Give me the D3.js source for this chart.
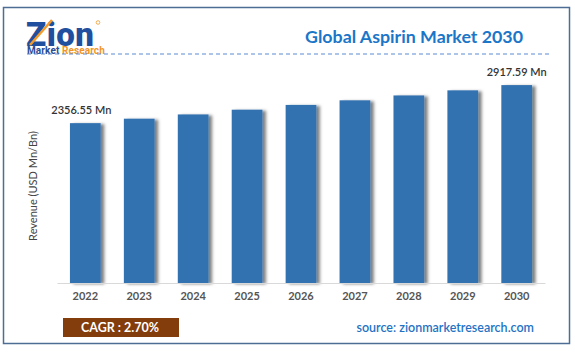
<!DOCTYPE html>
<html>
<head>
<meta charset="utf-8">
<script src="https://cdn.jsdelivr.net/npm/d3@7"></script>
<style>
  body { margin: 0; background: #fff; }
  svg { display: block; font-family: Lato, "Open Sans", sans-serif; }
</style>
</head>
<body>
<svg id="chart" width="575" height="354"></svg>
<script>
// chart data
const years = ["2022", "2023", "2024", "2025", "2026", "2027", "2028", "2029", "2030"];
const revenue = [2356.55, 2422, 2485, 2555, 2625, 2693, 2765, 2840, 2917.59];
const labelledBars = { "2022": "2356.55 Mn", "2030": "2917.59 Mn" };
const cagrText = "CAGR : 2.70%";
const sourceText = "source: zionmarketresearch.com";

const svg = d3.select("#chart");

// shadow to the right of the bars
const defs = svg.append("defs");
const shadow = defs.append("filter")
  .attr("id", "barShadow")
  .attr("x", "-20%").attr("y", "-5%")
  .attr("width", "160%").attr("height", "110%");
shadow.append("feDropShadow")
  .attr("dx", 3.5).attr("dy", 1)
  .attr("stdDeviation", 1.6)
  .attr("flood-color", "#000")
  .attr("flood-opacity", 0.5);

// outer frame
svg.append("rect")
  .attr("x", 3.5).attr("y", 7.5)
  .attr("width", 566).attr("height", 336)
  .attr("fill", "none")
  .attr("stroke", "#4d6d94")
  .attr("stroke-width", 1.5);

// logo
const logo = svg.append("g");
logo.append("text")
  .attr("x", 26).attr("y", 46)
  .attr("font-family", "Roboto, sans-serif")
  .attr("font-weight", 900)
  .attr("font-size", 33)
  .attr("letter-spacing", 0.5)
  .attr("fill", "#1f4f9e")
  .text("Zion");
logo.append("line")
  .attr("x1", 30).attr("y1", 45)
  .attr("x2", 52).attr("y2", 20)
  .attr("stroke", "#f39a2b")
  .attr("stroke-width", 2.5);
logo.append("circle")
  .attr("cx", 98).attr("cy", 22.5).attr("r", 1.8)
  .attr("fill", "none").attr("stroke", "#f39a2b").attr("stroke-width", 0.8);
const sub = logo.append("text")
  .attr("x", 27).attr("y", 53.5)
  .attr("font-family", "Roboto, sans-serif")
  .attr("font-weight", 700)
  .attr("font-size", 10)
  .attr("letter-spacing", 0.1);
sub.append("tspan").attr("fill", "#2b4d96").text("Market ");
sub.append("tspan").attr("fill", "#f0952a").text("Research");

// title + dashed rule
svg.append("text")
  .attr("x", 523).attr("y", 43)
  .attr("text-anchor", "end")
  .attr("font-weight", 700)
  .attr("font-size", 17.8)
  .attr("fill", "#1b76c8")
  .text("Global Aspirin Market 2030");

svg.append("line")
  .attr("x1", 27).attr("x2", 550)
  .attr("y1", 54).attr("y2", 54)
  .attr("stroke", "#5b8ad0")
  .attr("stroke-width", 1)
  .attr("stroke-dasharray", "4,3");

// scales
const x = d3.scaleBand()
  .domain(years)
  .range([57, 545])
  .paddingInner(0.43)
  .paddingOuter(0.24);

const y = d3.scaleLinear()
  .domain([0, 3000])
  .range([283, 79.5]);

// bars
svg.append("g")
  .selectAll("rect")
  .data(years)
  .join("rect")
  .attr("x", d => x(d))
  .attr("y", (d, i) => y(revenue[i]))
  .attr("width", x.bandwidth())
  .attr("height", (d, i) => y(0) - y(revenue[i]))
  .attr("fill", "#3372b1")
  .attr("filter", "url(#barShadow)");

// value labels on first/last bars
svg.append("g")
  .selectAll("text")
  .data(years.filter(d => labelledBars[d]))
  .join("text")
  .attr("x", d => x(d) + x.bandwidth() / 2 - (d === years[0] ? 4 : 0))
  .attr("y", d => y(revenue[years.indexOf(d)]) - 9)
  .attr("text-anchor", "middle")
  .attr("font-size", 11)
  .attr("font-weight", 600)
  .attr("fill", "#333")
  .text(d => labelledBars[d]);

// x axis
const xAxis = svg.append("g")
  .attr("transform", `translate(0,${y(0)})`)
  .call(d3.axisBottom(x).tickSize(0).tickPadding(9));
xAxis.select(".domain").attr("stroke", "#d9d9d9").attr("stroke-width", 1.2);
xAxis.selectAll("text")
  .attr("font-family", "Lato, sans-serif")
  .attr("font-size", 11)
  .attr("font-weight", 700)
  .attr("fill", "#555");

// y axis title
svg.append("text")
  .attr("transform", "translate(37,186) rotate(-90)")
  .attr("text-anchor", "middle")
  .attr("font-size", 11)
  .attr("fill", "#444")
  .text("Revenue (USD Mn/Bn)");

// CAGR box
svg.append("rect")
  .attr("x", 63).attr("y", 318)
  .attr("width", 116).attr("height", 19)
  .attr("fill", "#833c0b");
svg.append("text")
  .attr("x", 120).attr("y", 332)
  .attr("text-anchor", "middle")
  .attr("font-size", 12.5)
  .attr("font-weight", 700)
  .attr("fill", "#fff")
  .text(cagrText);

// source
svg.append("text")
  .attr("x", 534).attr("y", 332)
  .attr("text-anchor", "end")
  .attr("font-size", 12.5)
  .attr("font-weight", 600)
  .attr("fill", "#1f73c4")
  .text(sourceText);
</script>
</body>
</html>
